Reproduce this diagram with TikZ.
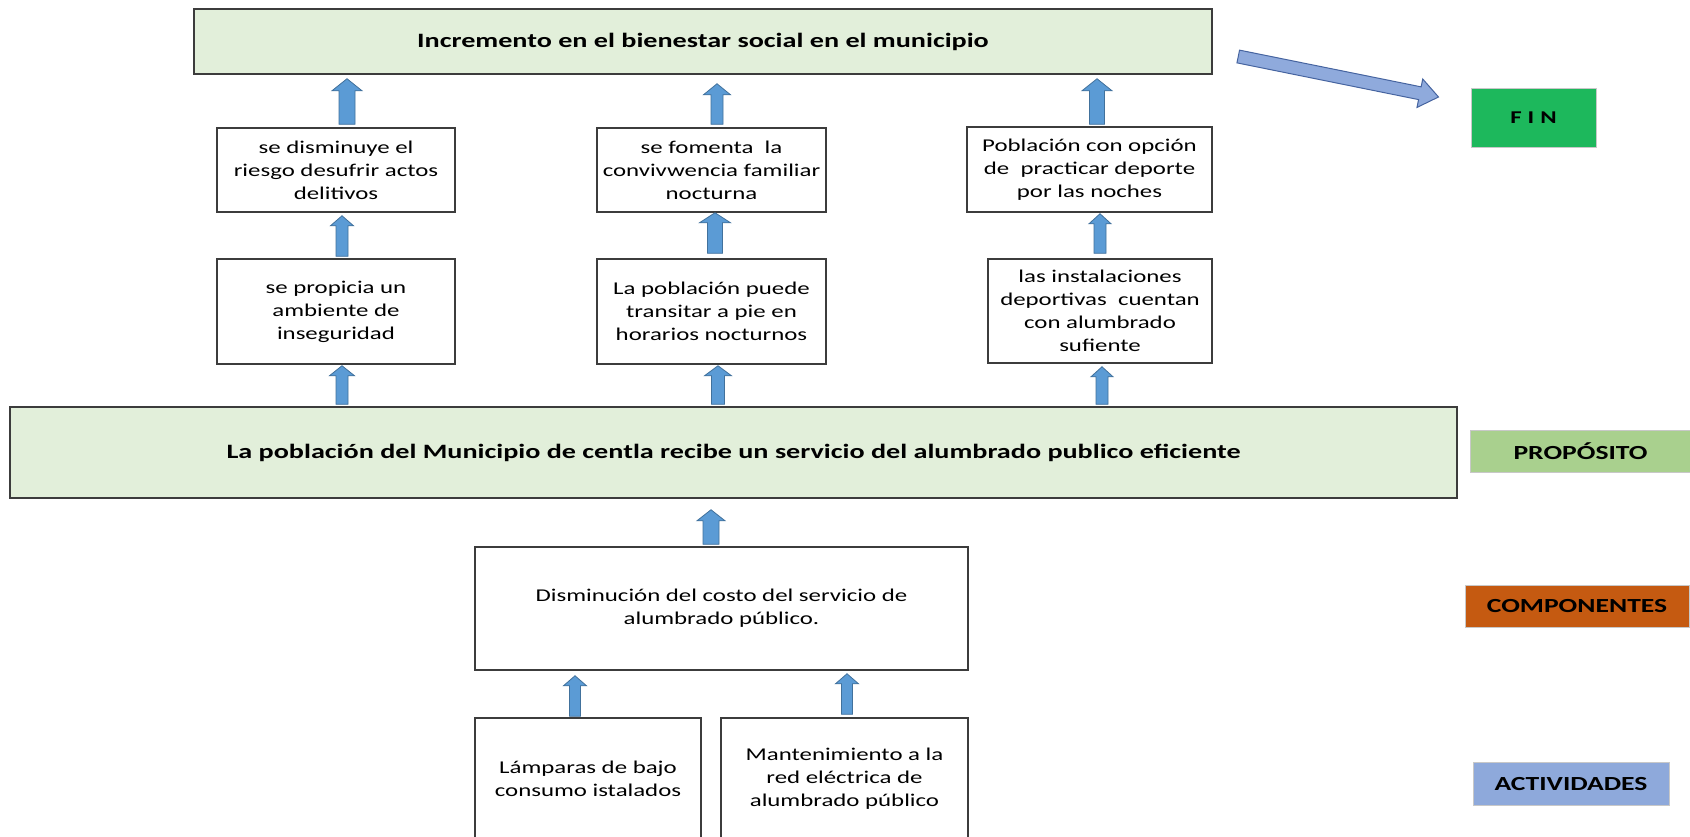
\documentclass[tikz,border=0pt]{standalone}
\usepackage{fontspec}
\setmainfont[FakeStretch=1.38]{Carlito}
\usetikzlibrary{calc}
\definecolor{boxgreen}{RGB}{226,239,218}
\definecolor{boxline}{RGB}{60,60,60}
\definecolor{arrfill}{RGB}{91,155,213}
\definecolor{arrline}{RGB}{65,113,156}
\definecolor{diagfill}{RGB}{143,170,220}
\definecolor{diagline}{RGB}{70,100,160}
\definecolor{finc}{RGB}{29,184,92}
\definecolor{propc}{RGB}{169,208,142}
\definecolor{compc}{RGB}{197,90,17}
\definecolor{actc}{RGB}{142,169,219}
\definecolor{labline}{RGB}{200,200,200}
\tikzset{
  box/.style={draw=boxline, line width=1.5pt, fill=white, inner sep=0pt, align=center,
    font=\fontsize{18}{23}\selectfont},
  greenbox/.style={box, fill=boxgreen, font=\bfseries\fontsize{20.4}{24}\selectfont},
  lab/.style={draw=labline, line width=1pt, inner sep=0pt,
    font=\bfseries\fontsize{20}{24}\selectfont},
  blk/.style={fill=arrfill, draw=arrline, line width=0.8pt},
  blk2/.style={fill=diagfill, draw=diagline, line width=1pt},
}
% vertical block arrow: #1 base point, #2 point giving tip height, #3 shaft w, #4 head w, #5 head length
\newcommand\vblock[5]{%
  \path[blk] let \p1=#1, \p2=#2 in
    (\x1-#3pt/2,\y1) -- (\x1-#3pt/2,\y2-#5pt) -- (\x1-#4pt/2,\y2-#5pt) -- (\x1,\y2)
    -- (\x1+#4pt/2,\y2-#5pt) -- (\x1+#3pt/2,\y2-#5pt) -- (\x1+#3pt/2,\y1) -- cycle;}
% general block arrow from #1 to #2
\newcommand\dblock[5]{%
  \path[blk2] let \p1=#1, \p2=#2, \n1={atan2(\y2-\y1,\x2-\x1)}, \n2={veclen(\x2-\x1,\y2-\y1)} in
    ($(\p1)+({\n1+90}:{#3pt/2})$)
    -- ($(\p1)+(\n1:{\n2*1pt-#5pt})+({\n1+90}:{#3pt/2})$)
    -- ($(\p1)+(\n1:{\n2*1pt-#5pt})+({\n1+90}:{#4pt/2})$)
    -- (\p2)
    -- ($(\p1)+(\n1:{\n2*1pt-#5pt})+({\n1-90}:{#4pt/2})$)
    -- ($(\p1)+(\n1:{\n2*1pt-#5pt})+({\n1-90}:{#3pt/2})$)
    -- ($(\p1)+({\n1-90}:{#3pt/2})$) -- cycle;}
\begin{document}
\begin{tikzpicture}[x=1pt,y=-1pt]
\useasboundingbox (0,0) rectangle (1690,836);
\clip (0,0) rectangle (1690,836);
\fill[white] (0,0) rectangle (1690,836);

% main column
\node[greenbox, minimum width=1018pt, minimum height=65pt] (top) at (703,41.5)
  {Incremento en el bienestar social en el municipio};
\node[box, minimum width=238pt, minimum height=84pt] (b1) at (336,170)
  {se disminuye el\\riesgo desufrir actos\\delitivos};
\node[box, minimum width=229pt, minimum height=84pt] (b2) at (711.5,170)
  {se fomenta\ \ la\\convivwencia familiar\\nocturna};
\node[box, minimum width=245pt, minimum height=85pt] (b3) at (1089.5,169.5)
  {Población con opción\\de\ \ practicar deporte\\por las noches};
\node[box, minimum width=238pt, minimum height=105pt] (c1) at (336,311.5)
  {se propicia un\\ambiente de\\inseguridad};
\node[box, minimum width=229pt, minimum height=105pt] (c2) at (711.5,311.5)
  {La población puede\\transitar a pie en\\horarios nocturnos};
\node[box, minimum width=224pt, minimum height=104pt] (c3) at (1100,311)
  {las instalaciones\\deportivas\ \ cuentan\\con alumbrado\\sufiente};
\node[greenbox, minimum width=1447pt, minimum height=91pt] (prop) at (733.5,452.5)
  {La población del Municipio de centla recibe un servicio del alumbrado publico eficiente};
\node[box, minimum width=493pt, minimum height=123pt] (comp) at (721.5,608.5)
  {Disminución del costo del servicio de\\alumbrado público.};
\node[box, minimum width=226pt, minimum height=122pt] (a1) at (588,779)
  {Lámparas de bajo\\consumo istalados};
\node[box, minimum width=247pt, minimum height=122pt] (a2) at (844.5,779)
  {Mantenimiento a la\\red eléctrica de\\alumbrado público};

% level labels
\node[lab, fill=finc, minimum width=125pt, minimum height=59pt] (fin) at (1533.5,117.5)
  {\fontsize{18}{22}\selectfont F\,\,I\,\,N};
\node[lab, fill=propc, minimum width=221pt, minimum height=42pt] (lprop) at (1580.5,451) {PROPÓSITO};
\node[lab, fill=compc, minimum width=224pt, minimum height=42pt] (lcomp) at (1577,606) {COMPONENTES};
\node[lab, fill=actc, minimum width=196pt, minimum height=43pt] (lact) at (1571,783.5) {ACTIVIDADES};

% vertical block arrows
\vblock{($(b1.north)+(11,-3)$)}{($(top.south)+(0,4)$)}{16}{30}{12}
\vblock{($(b2.north)+(5.5,-3)$)}{($(top.south)+(0,9)$)}{12}{27}{11}
\vblock{($(b3.north)+(7.5,-2)$)}{($(top.south)+(0,4)$)}{15}{30}{12}
\vblock{($(c1.north)+(6,-2)$)}{($(b1.south)+(0,3)$)}{12}{23}{10}
\vblock{($(c2.north)+(3.5,-5)$)}{($(b2.south)+(0,0)$)}{15}{31}{10}
\vblock{($(c3.north)+(0,-5)$)}{($(b3.south)+(0,1)$)}{12}{22}{10}
\vblock{($(prop.north)+(-391.5,-2)$)}{($(c1.south)+(0,1)$)}{12}{25}{10}
\vblock{($(prop.north)+(-15.5,-2)$)}{($(c2.south)+(0,1)$)}{13}{27}{10}
\vblock{($(prop.north)+(368.5,-2)$)}{($(c3.south)+(0,3)$)}{12}{22}{10}
\vblock{($(comp.north)+(-10.5,-2)$)}{($(prop.south)+(0,11)$)}{16}{28}{11}
\vblock{($(a1.north)+(-13,-1)$)}{($(comp.south)+(0,5)$)}{11}{23}{10}
\vblock{($(a2.north)+(2.5,-3)$)}{($(comp.south)+(0,3)$)}{11}{23}{10}

% diagonal arrow to FIN
\coordinate (dstart) at ($(top.east)+(25.5,15)$);
\coordinate (dend) at ($(fin.west)+(-32,-20.5)$);
\dblock{(dstart)}{(dend)}{13}{29}{19}
\end{tikzpicture}
\end{document}
